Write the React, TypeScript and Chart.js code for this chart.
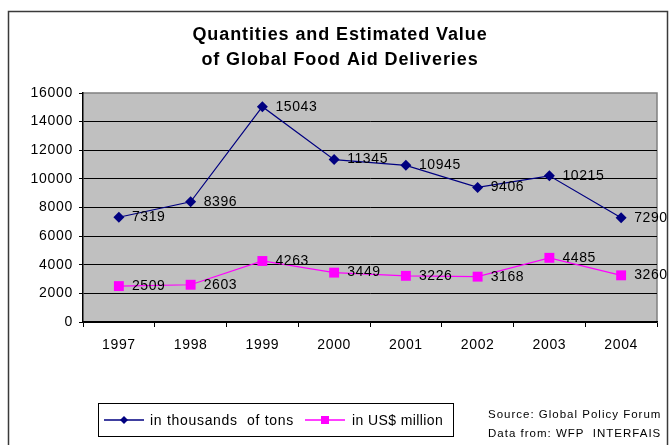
import React, { useEffect, useRef } from "react";
import { Chart, registerables } from "chart.js";

Chart.register(...registerables);

const years = ["1997", "1998", "1999", "2000", "2001", "2002", "2003", "2004"];
const tonsValues = [7319, 8396, 15043, 11345, 10945, 9406, 10215, 7290];
const usdValues = [2509, 2603, 4263, 3449, 3226, 3168, 4485, 3260];
const seriesLabels = ["in thousands  of tons", "in US$ million"];
const titleLines = ["Quantities and Estimated Value", "of Global Food Aid Deliveries"];
const sourceLines = ["Source: Global Policy Forum", "Data from: WFP  INTERFAIS"];

const FONT = "'Liberation Sans', Arial, sans-serif";

const decorPlugin = {
  id: "decor",
  beforeDraw(chart: any) {
    const { ctx, chartArea } = chart;
    ctx.save();
    ctx.fillStyle = "#ffffff";
    ctx.fillRect(0, 0, chart.width, chart.height);
    ctx.strokeStyle = "#3a3a3a";
    ctx.lineWidth = 1.5;
    ctx.strokeRect(8.5, 11.5, 659, 460);
    ctx.fillStyle = "#c0c0c0";
    ctx.fillRect(chartArea.left, chartArea.top, chartArea.right - chartArea.left, chartArea.bottom - chartArea.top);
    ctx.strokeStyle = "#808080";
    ctx.lineWidth = 1.5;
    ctx.beginPath();
    ctx.moveTo(chartArea.left, chartArea.top);
    ctx.lineTo(chartArea.right, chartArea.top);
    ctx.lineTo(chartArea.right, chartArea.bottom);
    ctx.stroke();
    ctx.fillStyle = "#000";
    ctx.font = `bold 18px ${FONT}`;
    ctx.letterSpacing = "0.9px";
    ctx.textAlign = "center";
    ctx.textBaseline = "middle";
    ctx.fillText(titleLines[0], 340, 35);
    ctx.fillText(titleLines[1], 340, 60);
    ctx.restore();
    ctx.letterSpacing = "0.7px";
  },
  afterDatasetsDraw(chart: any) {
    const { ctx } = chart;
    ctx.save();
    ctx.fillStyle = "#000";
    ctx.font = `14px ${FONT}`;
    ctx.letterSpacing = "0.6px";
    ctx.textAlign = "left";
    ctx.textBaseline = "middle";
    chart.data.datasets.forEach((ds: any, i: number) => {
      const meta = chart.getDatasetMeta(i);
      meta.data.forEach((pt: any, j: number) => {
        ctx.fillText(String(ds.data[j]), pt.x + 13, pt.y);
      });
    });
    ctx.restore();
  },
  afterDraw(chart: any) {
    const { ctx } = chart;
    ctx.save();
    ctx.strokeStyle = "#000";
    ctx.lineWidth = 1;
    ctx.strokeRect(98.5, 403.5, 355, 33);
    const items = [
      { x: 104, textX: 150, spacing: "0.7px" },
      { x: 305, textX: 352, spacing: "0.4px" },
    ];
    const y = 420;
    chart.data.datasets.forEach((ds: any, i: number) => {
      const it = items[i];
      ctx.strokeStyle = ds.borderColor;
      ctx.lineWidth = 1.5;
      ctx.beginPath();
      ctx.moveTo(it.x, y);
      ctx.lineTo(it.x + 40, y);
      ctx.stroke();
      ctx.fillStyle = ds.backgroundColor;
      const cx = it.x + 20;
      if (ds.pointStyle === "rectRot") {
        ctx.beginPath();
        ctx.moveTo(cx, y - 4);
        ctx.lineTo(cx + 4, y);
        ctx.lineTo(cx, y + 4);
        ctx.lineTo(cx - 4, y);
        ctx.closePath();
        ctx.fill();
      } else {
        ctx.fillRect(cx - 4, y - 4, 8, 8);
      }
      ctx.fillStyle = "#000";
      ctx.font = `14px ${FONT}`;
      ctx.letterSpacing = it.spacing;
      ctx.textAlign = "left";
      ctx.textBaseline = "middle";
      ctx.fillText(ds.label, it.textX, y + 1);
    });
    ctx.fillStyle = "#000";
    ctx.font = `11.5px ${FONT}`;
    ctx.letterSpacing = "1px";
    ctx.textAlign = "left";
    ctx.textBaseline = "middle";
    ctx.fillText(sourceLines[0], 488, 415);
    ctx.fillText(sourceLines[1], 488, 434);
    ctx.restore();
  },
};

export default function App() {
  const ref = useRef<HTMLCanvasElement>(null);
  useEffect(() => {
    if (!ref.current) return;
    const chart = new Chart(ref.current, {
      type: "line",
      data: {
        labels: years,
        datasets: [
          {
            label: seriesLabels[0],
            data: tonsValues,
            borderColor: "#000080",
            backgroundColor: "#000080",
            borderWidth: 1.2,
            pointStyle: "rectRot",
            pointRadius: 5.5,
            pointBorderWidth: 0,
            tension: 0,
          },
          {
            label: seriesLabels[1],
            data: usdValues,
            borderColor: "#ff00ff",
            backgroundColor: "#ff00ff",
            borderWidth: 1.2,
            pointStyle: "rect",
            pointRadius: 7,
            pointBorderWidth: 0,
            tension: 0,
          },
        ],
      },
      options: {
        responsive: false,
        animation: false,
        devicePixelRatio: 1,
        layout: { padding: { left: 8, right: 13, top: 93, bottom: 83 } },
        plugins: {
          legend: { display: false },
          title: { display: false },
          tooltip: { enabled: false },
        },
        scales: {
          x: {
            offset: true,
            grid: {
              offset: true,
              drawOnChartArea: false,
              tickLength: 5,
              color: "#000",
              lineWidth: 1,
            },
            border: { color: "#000", width: 1.5 },
            ticks: {
              color: "#000",
              font: { family: FONT, size: 14 },
              padding: 10,
              maxRotation: 0,
            },
            afterFit: (s: any) => {
              s.height = 40;
            },
          },
          y: {
            min: 0,
            max: 16000,
            ticks: {
              stepSize: 2000,
              color: "#000",
              font: { family: FONT, size: 14 },
              padding: 6,
              callback: (v: any) => String(v),
            },
            grid: {
              color: (c: any) => (c.tick && c.tick.value === 16000 ? "rgba(0,0,0,0)" : "#000"),
              tickColor: "#000",
              tickLength: 4,
              lineWidth: 1,
            },
            border: { color: "#000", width: 1.5 },
            afterFit: (s: any) => {
              s.width = 75;
            },
          },
        },
      },
      plugins: [decorPlugin],
    });
    return () => chart.destroy();
  }, []);
  return (
    <div style={{ position: "fixed", left: 0, top: 0, width: 670, height: 445, background: "#fff" }}>
      <canvas ref={ref} width={670} height={445} />
    </div>
  );
}
